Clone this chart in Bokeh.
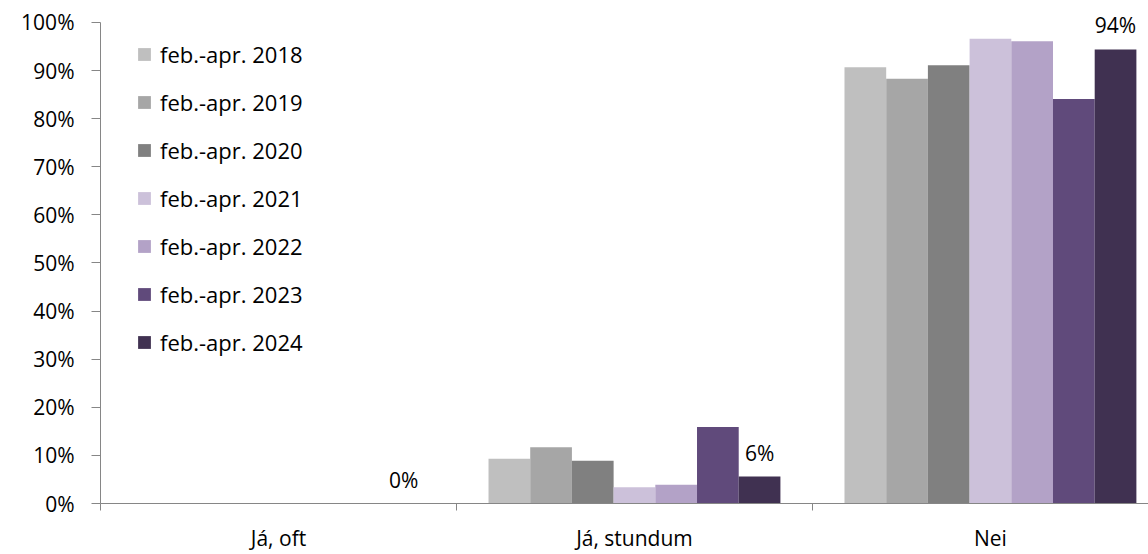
from bokeh.plotting import figure
from bokeh.models import (ColumnDataSource, Range1d, FixedTicker, PrintfTickFormatter,
                          Legend, LegendItem)
from bokeh.transform import dodge
from bokeh.core.properties import value
from bokeh.embed import file_html
from bokeh.resources import INLINE

categories = ["Já, oft", "Já, stundum", "Nei"]
series = ["feb.-apr. 2018", "feb.-apr. 2019", "feb.-apr. 2020", "feb.-apr. 2021",
          "feb.-apr. 2022", "feb.-apr. 2023", "feb.-apr. 2024"]
v2018 = [0.0, 9.3, 90.7]
v2019 = [0.0, 11.7, 88.3]
v2020 = [0.0, 8.9, 91.1]
v2021 = [0.0, 3.4, 96.6]
v2022 = [0.0, 3.9, 96.1]
v2023 = [0.0, 15.9, 84.1]
v2024 = [0.0, 5.6, 94.4]
colors = ["#BFBFBF", "#A6A6A6", "#808080", "#CCC1DA", "#B3A2C7", "#604A7B", "#403151"]
y_ticks = [0, 10, 20, 30, 40, 50, 60, 70, 80, 90, 100]

values = [v2018, v2019, v2020, v2021, v2022, v2023, v2024]
FONT = "Open Sans"
FS = "21px"

xs = [i + 0.5 for i in range(len(categories))]
data = dict(x=xs, cat=categories)
keys = []
for i, vals in enumerate(values):
    k = "s%d" % i
    keys.append(k)
    data[k] = vals
data["lbl"] = ["%d%%" % round(v) for v in v2024]
src = ColumnDataSource(data)

# frame spans 0..504 px vertically; 100% sits at 22 px from the top
y_end = 100 * 504 / 482
p = figure(width=1148, height=554,
           x_range=Range1d(0, 2.944), y_range=Range1d(0, y_end),
           output_backend="svg", toolbar_location=None,
           min_border_left=100, min_border_right=0, min_border_top=0, min_border_bottom=50)
p.outline_line_color = None
p.xgrid.visible = False
p.ygrid.visible = False
p.background_fill_color = "white"

group = 0.82
bw = group / len(series)
items = []
for i, (k, s, c) in enumerate(zip(keys, series, colors)):
    off = -group / 2 + bw * (i + 0.5)
    r = p.vbar(x=dodge("x", off, range=p.x_range), top=k, bottom=0, width=bw,
               source=src, fill_color=c, line_color=None)
    items.append(LegendItem(label=s, renderers=[r]))

off_last = -group / 2 + bw * (len(series) - 0.5)
p.text(x=dodge("x", off_last, range=p.x_range), y=keys[-1], text="lbl", source=src,
       text_font=value(FONT), text_font_size=FS, text_color="#000000",
       text_align="center", text_baseline="middle", y_offset=-24)

axis_color = "#868686"
# y axis
ya = p.yaxis[0]
ya.ticker = FixedTicker(ticks=y_ticks)
ya.formatter = PrintfTickFormatter(format="%d%%")
ya.bounds = (0, 100)
ya.axis_line_color = axis_color
ya.major_tick_line_color = axis_color
ya.major_tick_out = 9
ya.major_tick_in = 0
ya.minor_tick_line_color = None
ya.major_label_text_font = FONT
ya.major_label_text_font_size = FS
ya.major_label_text_color = "#000000"
ya.major_label_standoff = 17

# x axis
xa = p.xaxis[0]
xa.ticker = FixedTicker(ticks=xs, minor_ticks=[0, 1, 2, 3])
xa.major_label_overrides = {x: c for x, c in zip(xs, categories)}
xa.axis_line_color = axis_color
xa.major_tick_line_color = None
xa.major_tick_out = 0
xa.major_tick_in = 0
xa.minor_tick_line_color = axis_color
xa.minor_tick_out = 7
xa.minor_tick_in = 0
xa.major_label_text_font = FONT
xa.major_label_text_font_size = FS
xa.major_label_text_color = "#000000"
xa.major_label_standoff = 13

legend = Legend(items=items, location=(36, 146),
                label_text_font=FONT, label_text_font_size="22px", label_text_color="#000000",
                glyph_width=16, glyph_height=16, label_standoff=8, label_height=20,
                spacing=18, padding=0, margin=0,
                border_line_color=None, background_fill_alpha=0)
p.add_layout(legend)

open("out.html", "w").write(file_html(p, INLINE))
